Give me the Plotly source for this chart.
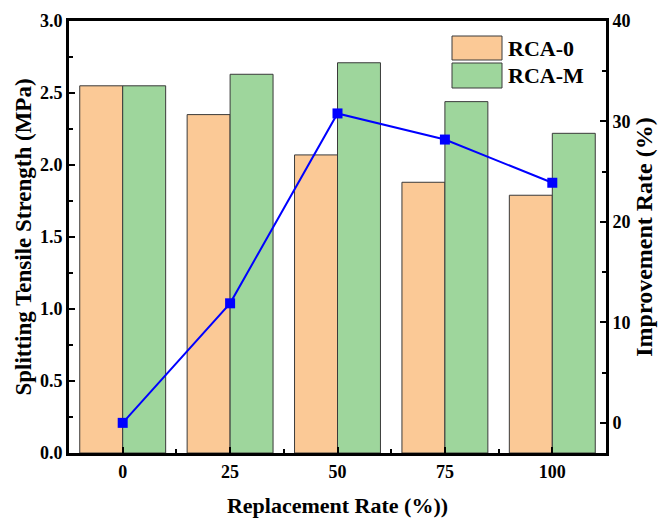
import plotly.graph_objects as go

# Replacement rate categories (%)
replacement = ["0", "25", "50", "75", "100"]
# Splitting tensile strength (MPa)
rca_0 = [2.55, 2.35, 2.07, 1.88, 1.79]
rca_m = [2.55, 2.63, 2.71, 2.44, 2.22]
# Improvement rate of RCA-M over RCA-0 (%)
improvement = [0.0, 11.9, 30.8, 28.2, 23.9]

xpos = list(range(len(replacement)))

SERIF = "Liberation Serif"
ORANGE = "#FBC996"
GREEN = "#9ED69C"
EDGE = "#3A3A3A"

fig = go.Figure()
fig.add_trace(go.Bar(x=xpos, y=rca_0, name="RCA-0", marker=dict(color=ORANGE, line=dict(color=EDGE, width=1)),
                     showlegend=False))
fig.add_trace(go.Bar(x=xpos, y=rca_m, name="RCA-M", marker=dict(color=GREEN, line=dict(color=EDGE, width=1)),
                     showlegend=False))
fig.add_trace(go.Scatter(x=xpos, y=improvement, yaxis="y2", mode="lines+markers",
                         line=dict(color="#0000FF", width=2),
                         marker=dict(symbol="square", size=10, color="#0000FF"),
                         showlegend=False))

# Plot-area geometry in pixels
W, H = 660, 519
L, R, T, B = 69, 54, 21, 66
PW, PH = W - L - R, H - T - B


def px(xp):
    return (xp - L) / PW


def py(yp):
    return (H - B - yp) / PH


# Hand-drawn legend with large swatches
legend_items = [("RCA-0", ORANGE, 36, 60), ("RCA-M", GREEN, 63, 88)]
shapes = []
annotations = []
for label, color, top, bot in legend_items:
    shapes.append(dict(type="rect", xref="paper", yref="paper", x0=px(452), x1=px(502), y0=py(bot), y1=py(top),
                       fillcolor=color, line=dict(color=EDGE, width=1)))
    annotations.append(dict(xref="paper", yref="paper", x=px(506), y=py((top + bot) / 2), text="<b>%s</b>" % label,
                            showarrow=False, xanchor="left", yanchor="middle",
                            font=dict(family=SERIF, size=22, color="black")))

tickfont = dict(family=SERIF, size=18, color="black")


def bold_ticks(vals, fmt):
    return ["<b>%s</b>" % (fmt % v) for v in vals]


yticks = [0, 0.5, 1.0, 1.5, 2.0, 2.5, 3.0]
y2ticks = [0, 10, 20, 30, 40]

fig.update_layout(
    width=W, height=H,
    margin=dict(l=L, r=R, t=T, b=B, autoexpand=False),
    paper_bgcolor="white", plot_bgcolor="white",
    barmode="group", bargap=0.2, bargroupgap=0,
    shapes=shapes, annotations=annotations,
    xaxis=dict(
        range=[-0.5, 4.5], tickmode="array", tickvals=xpos, ticktext=["<b>%s</b>" % t for t in replacement],
        showline=True, linecolor="black", linewidth=3, mirror=True, automargin=False,
        ticks="inside", ticklen=6, tickwidth=2, tickcolor="black",
        minor=dict(tickmode="array", tickvals=[0.5, 1.5, 2.5, 3.5], ticks="inside", ticklen=4, tickwidth=2,
                   tickcolor="black"),
        showgrid=False, zeroline=False, tickfont=tickfont,
        title=dict(text="<b>Replacement Rate (%))</b>", font=dict(family=SERIF, size=22, color="black"),
                   standoff=18),
    ),
    yaxis=dict(
        range=[0, 3.0], tickmode="array", tickvals=yticks, ticktext=bold_ticks(yticks, "%.1f"),
        showline=True, linecolor="black", linewidth=3, automargin=False,
        ticks="inside", ticklen=6, tickwidth=2, tickcolor="black",
        minor=dict(tickmode="array", tickvals=[0.25, 0.75, 1.25, 1.75, 2.25, 2.75], ticks="inside", ticklen=4,
                   tickwidth=2, tickcolor="black"),
        showgrid=False, zeroline=False, tickfont=tickfont,
        title=dict(text="<b>Splitting Tensile Strength (MPa)</b>", font=dict(family=SERIF, size=23, color="black"),
                   standoff=2),
    ),
    yaxis2=dict(
        overlaying="y", side="right", range=[-3, 40], tickmode="array", tickvals=y2ticks,
        ticktext=bold_ticks(y2ticks, "%d"), automargin=False,
        showline=True, linecolor="black", linewidth=3,
        ticks="inside", ticklen=6, tickwidth=2, tickcolor="black",
        minor=dict(tickmode="array", tickvals=[5, 15, 25, 35], ticks="inside", ticklen=4, tickwidth=2,
                   tickcolor="black"),
        showgrid=False, zeroline=False, tickfont=tickfont,
        title=dict(text="<b>Improvement Rate (%)</b>", font=dict(family=SERIF, size=24, color="black"),
                   standoff=6),
    ),
)

fig.write_html("out.html")
